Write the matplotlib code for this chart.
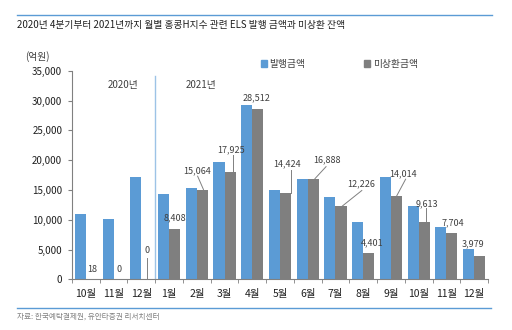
import numpy as np
import matplotlib.pyplot as plt
from matplotlib.lines import Line2D
from matplotlib.patches import Patch

plt.rcParams['font.family'] = ['Noto Sans CJK KR', 'DejaVu Sans']

months = ['10월', '11월', '12월', '1월', '2월', '3월', '4월', '5월', '6월',
          '7월', '8월', '9월', '10월', '11월', '12월']
issued = [10900, 10200, 17200, 14300, 15300, 19600, 29200, 15000, 16900,
          13850, 9650, 17200, 12300, 8800, 5050]
outstanding = [18, 0, 0, 8408, 15064, 17925, 28512, 14424, 16888,
               12226, 4401, 14014, 9613, 7704, 3979]

# label placement (x, y) in data units and optional leader line end point
label_pos = [(0.22, 1600), (1.19, 1600), (2.2, 4800), (3.21, 10300),
             (4.0, 18270), (5.22, 21760), (6.17, 30390), (7.24, 19350),
             (8.68, 20070), (9.92, 15980), (10.31, 6160), (11.44, 17720),
             (12.29, 12670), (13.23, 9520), (13.95, 5890)]
leaders = {2: ((2.2, 0), (2.2, 3600)),
           4: ((4.24, 15064), (4.03, 17300)),
           5: ((5.3, 17925), (5.3, 20900)),
           7: ((7.40, 14424), (7.40, 18400)),
           8: ((8.26, 16888), (8.66, 18900)),
           9: ((9.23, 12226), (9.95, 14900)),
           11: ((11.21, 14014), (11.53, 16800)),
           12: ((12.25, 9613), (12.25, 12000))}

C_blue = '#5B9BD5'
C_grey = '#7F7F7F'
C_text = '#404040'

fig = plt.figure(figsize=(5.12, 3.3), dpi=100)
ax = fig.add_axes([72 / 512, 1 - 279.3 / 330, 416 / 512, 208.6 / 330])

x = np.arange(len(months))
ax.bar(x - 0.2, issued, width=0.4, color=C_blue, zorder=2)
ax.bar(x + 0.2, outstanding, width=0.4, color=C_grey, zorder=2)

for i, (lx, ly) in enumerate(label_pos):
    ax.text(lx, ly, f'{outstanding[i]:,}', ha='center', va='center',
            fontsize=6.5, color=C_text, zorder=4)
    if i in leaders:
        (x0, y0), (x1, y1) = leaders[i]
        ax.plot([x0, x1], [y0, y1], color='#808080', lw=0.7, zorder=3)

ax.set_xlim(-0.5, len(months) - 0.5)
ax.set_ylim(0, 35000)
ax.set_yticks(np.arange(0, 35001, 5000))
ax.set_yticklabels([f'{v:,}' for v in range(0, 35001, 5000)])
ax.set_xticks(x)
ax.set_xticklabels(months, fontsize=7.5, color='#202020', fontweight='medium')
ax.set_xticks(np.arange(-0.5, len(months)), minor=True)
ax.tick_params(axis='x', which='major', length=0, pad=7)
ax.tick_params(axis='x', which='minor', length=3, color='#808080')
ax.tick_params(axis='y', length=3, labelsize=7, colors='#808080',
               labelcolor='#202020', pad=4)
for s in ['top', 'right']:
    ax.spines[s].set_visible(False)
ax.spines['left'].set_color('#808080')
ax.spines['bottom'].set_color('#808080')

# 2020 / 2021 divider
ax.axvline(2.5, ymin=0, ymax=0.975, color='#9DC3E6', lw=1, zorder=1)
ax.text(1.35, 32600, '2020년', ha='center', va='center', fontsize=7, color=C_text)
ax.text(4.15, 32600, '2021년', ha='center', va='center', fontsize=7, color=C_text)

fig.text(37 / 512, 1 - 57 / 330, '(억원)', ha='center', va='center',
         fontsize=7, color=C_text)

handles = [Patch(color=C_blue, label='발행금액'), Patch(color=C_grey, label='미상환금액')]
fig.legend(handles=handles, ncol=2, loc='center left',
           bbox_to_anchor=(252 / 512, 1 - 64 / 330), frameon=False,
           fontsize=7, handlelength=0.6, handleheight=0.6, handletextpad=0.3,
           columnspacing=6.0, labelcolor=C_text)

# header / footer
fig.add_artist(Line2D([17 / 512, 492 / 512], [1 - 15 / 330] * 2, color='#5B9BD5', lw=1))
fig.text(17 / 512, 1 - 25 / 330,
         '2020년 4분기부터 2021년까지 월별 홍콩H지수 관련 ELS 발행 금액과 미상환 잔액',
         ha='left', va='center', fontsize=7, fontweight='medium', color='#202020')
fig.add_artist(Line2D([17 / 512, 491 / 512], [1 - 307.7 / 330] * 2, color='#5B9BD5', lw=1))
fig.text(17 / 512, 1 - 316.7 / 330, '자료: 한국예탁결제원, 유안타증권 리서치센터',
         ha='left', va='center', fontsize=5.5, color='#808080')

fig.savefig('out.png', dpi=100, facecolor='white')
